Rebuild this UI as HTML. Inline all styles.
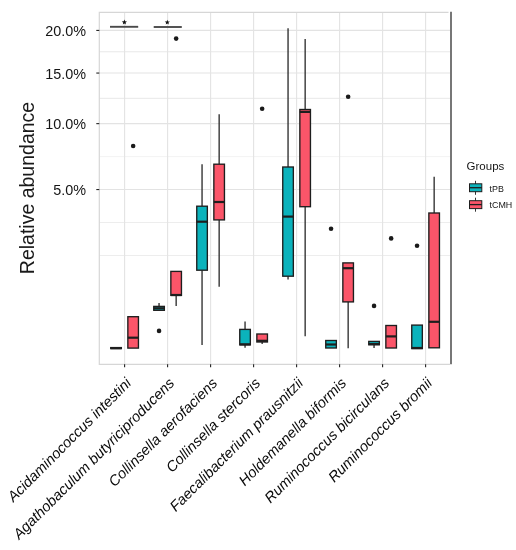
<!DOCTYPE html>
<html><head><meta charset="utf-8"><style>
html,body{margin:0;padding:0;background:#fff;}
svg{display:block;will-change:transform;filter:blur(0.3px);font-family:"Liberation Sans",sans-serif;}
</style></head><body>
<svg width="516" height="550" viewBox="0 0 516 550">
<rect width="516" height="550" fill="#fff"/>
<line x1="99.3" x2="450" y1="255.47" y2="255.47" stroke="#ededed" stroke-width="1"/>
<line x1="99.3" x2="450" y1="222.52" y2="222.52" stroke="#ededed" stroke-width="1"/>
<line x1="99.3" x2="450" y1="156.61" y2="156.61" stroke="#f3f3f3" stroke-width="1"/>
<line x1="99.3" x2="450" y1="98.32" y2="98.32" stroke="#e8e8e8" stroke-width="1"/>
<line x1="99.3" x2="450" y1="51.78" y2="51.78" stroke="#e8e8e8" stroke-width="1"/>
<line x1="99.3" x2="450" y1="189.56" y2="189.56" stroke="#e3e3e3" stroke-width="1.1"/>
<line x1="99.3" x2="450" y1="123.64" y2="123.64" stroke="#e3e3e3" stroke-width="1.1"/>
<line x1="99.3" x2="450" y1="73.06" y2="73.06" stroke="#e3e3e3" stroke-width="1.1"/>
<line x1="99.3" x2="450" y1="30.42" y2="30.42" stroke="#e3e3e3" stroke-width="1.1"/>
<line x1="124.60" x2="124.60" y1="12.3" y2="364.3" stroke="#e3e3e3" stroke-width="1.1"/>
<line x1="167.60" x2="167.60" y1="12.3" y2="364.3" stroke="#e3e3e3" stroke-width="1.1"/>
<line x1="210.60" x2="210.60" y1="12.3" y2="364.3" stroke="#e3e3e3" stroke-width="1.1"/>
<line x1="253.60" x2="253.60" y1="12.3" y2="364.3" stroke="#e3e3e3" stroke-width="1.1"/>
<line x1="296.60" x2="296.60" y1="12.3" y2="364.3" stroke="#e3e3e3" stroke-width="1.1"/>
<line x1="339.60" x2="339.60" y1="12.3" y2="364.3" stroke="#e3e3e3" stroke-width="1.1"/>
<line x1="382.60" x2="382.60" y1="12.3" y2="364.3" stroke="#e3e3e3" stroke-width="1.1"/>
<line x1="425.60" x2="425.60" y1="12.3" y2="364.3" stroke="#e3e3e3" stroke-width="1.1"/>
<polyline points="448.5,12.3 99.3,12.3 99.3,364.3 450,364.3" fill="none" stroke="#d6d6d6" stroke-width="1.2"/>
<line x1="451" x2="451" y1="11.700000000000001" y2="364.3" stroke="#777" stroke-width="2"/>
<rect x="110.75" y="347.6" width="10.6" height="1.00" fill="#0bb3bc" stroke="#1e1e1e" stroke-width="1.35"/>
<line x1="110.75" x2="121.35" y1="348.1" y2="348.1" stroke="#1e1e1e" stroke-width="2.2"/>
<rect x="127.85" y="316.7" width="10.6" height="31.40" fill="#fb5569" stroke="#1e1e1e" stroke-width="1.35"/>
<line x1="127.85" x2="138.45" y1="337.7" y2="337.7" stroke="#1e1e1e" stroke-width="2.2"/>
<circle cx="133.15" cy="146.0" r="2.3" fill="#1a1a1a"/>
<line x1="159.05" x2="159.05" y1="303.1" y2="306.4" stroke="#262626" stroke-width="1.3"/>
<rect x="153.75" y="306.4" width="10.6" height="3.90" fill="#0bb3bc" stroke="#1e1e1e" stroke-width="1.35"/>
<line x1="153.75" x2="164.35" y1="308.3" y2="308.3" stroke="#1e1e1e" stroke-width="2.2"/>
<circle cx="159.05" cy="330.9" r="2.3" fill="#1a1a1a"/>
<line x1="176.15" x2="176.15" y1="295.4" y2="306.0" stroke="#262626" stroke-width="1.3"/>
<rect x="170.85" y="271.4" width="10.6" height="24.00" fill="#fb5569" stroke="#1e1e1e" stroke-width="1.35"/>
<line x1="170.85" x2="181.45" y1="295.0" y2="295.0" stroke="#1e1e1e" stroke-width="2.2"/>
<circle cx="176.15" cy="38.6" r="2.3" fill="#1a1a1a"/>
<line x1="202.05" x2="202.05" y1="164.2" y2="206.2" stroke="#262626" stroke-width="1.3"/>
<line x1="202.05" x2="202.05" y1="270.2" y2="345.0" stroke="#262626" stroke-width="1.3"/>
<rect x="196.75" y="206.2" width="10.6" height="64.00" fill="#0bb3bc" stroke="#1e1e1e" stroke-width="1.35"/>
<line x1="196.75" x2="207.35" y1="221.7" y2="221.7" stroke="#1e1e1e" stroke-width="2.2"/>
<line x1="219.15" x2="219.15" y1="114.2" y2="164.2" stroke="#262626" stroke-width="1.3"/>
<line x1="219.15" x2="219.15" y1="219.9" y2="286.7" stroke="#262626" stroke-width="1.3"/>
<rect x="213.85" y="164.2" width="10.6" height="55.70" fill="#fb5569" stroke="#1e1e1e" stroke-width="1.35"/>
<line x1="213.85" x2="224.45" y1="202.0" y2="202.0" stroke="#1e1e1e" stroke-width="2.2"/>
<line x1="245.05" x2="245.05" y1="321.6" y2="329.4" stroke="#262626" stroke-width="1.3"/>
<line x1="245.05" x2="245.05" y1="344.9" y2="347.8" stroke="#262626" stroke-width="1.3"/>
<rect x="239.75" y="329.4" width="10.6" height="15.50" fill="#0bb3bc" stroke="#1e1e1e" stroke-width="1.35"/>
<line x1="239.75" x2="250.35" y1="344.3" y2="344.3" stroke="#1e1e1e" stroke-width="2.2"/>
<line x1="262.15" x2="262.15" y1="342.0" y2="343.9" stroke="#262626" stroke-width="1.3"/>
<rect x="256.85" y="334.0" width="10.6" height="8.00" fill="#fb5569" stroke="#1e1e1e" stroke-width="1.35"/>
<line x1="256.85" x2="267.45" y1="340.8" y2="340.8" stroke="#1e1e1e" stroke-width="2.2"/>
<circle cx="262.15" cy="108.8" r="2.3" fill="#1a1a1a"/>
<line x1="288.05" x2="288.05" y1="28.2" y2="167.0" stroke="#262626" stroke-width="1.3"/>
<line x1="288.05" x2="288.05" y1="276.2" y2="279.6" stroke="#262626" stroke-width="1.3"/>
<rect x="282.75" y="167.0" width="10.6" height="109.20" fill="#0bb3bc" stroke="#1e1e1e" stroke-width="1.35"/>
<line x1="282.75" x2="293.35" y1="216.6" y2="216.6" stroke="#1e1e1e" stroke-width="2.2"/>
<line x1="305.15" x2="305.15" y1="38.9" y2="109.5" stroke="#262626" stroke-width="1.3"/>
<line x1="305.15" x2="305.15" y1="206.7" y2="336.3" stroke="#262626" stroke-width="1.3"/>
<rect x="299.85" y="109.5" width="10.6" height="97.20" fill="#fb5569" stroke="#1e1e1e" stroke-width="1.35"/>
<line x1="299.85" x2="310.45" y1="111.9" y2="111.9" stroke="#1e1e1e" stroke-width="2.2"/>
<rect x="325.75" y="340.5" width="10.6" height="7.50" fill="#0bb3bc" stroke="#1e1e1e" stroke-width="1.35"/>
<line x1="325.75" x2="336.35" y1="344.5" y2="344.5" stroke="#1e1e1e" stroke-width="2.2"/>
<circle cx="331.05" cy="228.7" r="2.3" fill="#1a1a1a"/>
<line x1="348.15" x2="348.15" y1="301.9" y2="348.2" stroke="#262626" stroke-width="1.3"/>
<rect x="342.85" y="262.9" width="10.6" height="39.00" fill="#fb5569" stroke="#1e1e1e" stroke-width="1.35"/>
<line x1="342.85" x2="353.45" y1="268.2" y2="268.2" stroke="#1e1e1e" stroke-width="2.2"/>
<circle cx="348.15" cy="96.7" r="2.3" fill="#1a1a1a"/>
<line x1="374.05" x2="374.05" y1="344.8" y2="347.9" stroke="#262626" stroke-width="1.3"/>
<rect x="368.75" y="341.4" width="10.6" height="3.40" fill="#0bb3bc" stroke="#1e1e1e" stroke-width="1.35"/>
<line x1="368.75" x2="379.35" y1="344.0" y2="344.0" stroke="#1e1e1e" stroke-width="2.2"/>
<circle cx="374.05" cy="305.9" r="2.3" fill="#1a1a1a"/>
<rect x="385.85" y="325.5" width="10.6" height="22.50" fill="#fb5569" stroke="#1e1e1e" stroke-width="1.35"/>
<line x1="385.85" x2="396.45" y1="336.4" y2="336.4" stroke="#1e1e1e" stroke-width="2.2"/>
<circle cx="391.15" cy="238.4" r="2.3" fill="#1a1a1a"/>
<rect x="411.75" y="325.1" width="10.6" height="23.50" fill="#0bb3bc" stroke="#1e1e1e" stroke-width="1.35"/>
<line x1="411.75" x2="422.35" y1="348.0" y2="348.0" stroke="#1e1e1e" stroke-width="2.2"/>
<circle cx="417.05" cy="245.7" r="2.3" fill="#1a1a1a"/>
<line x1="434.15" x2="434.15" y1="176.8" y2="213.0" stroke="#262626" stroke-width="1.3"/>
<rect x="428.85" y="213.0" width="10.6" height="134.80" fill="#fb5569" stroke="#1e1e1e" stroke-width="1.35"/>
<line x1="428.85" x2="439.45" y1="321.8" y2="321.8" stroke="#1e1e1e" stroke-width="2.2"/>
<line x1="110.0" x2="138.2" y1="26.8" y2="26.8" stroke="#4a4a4a" stroke-width="1.9"/>
<polygon points="124.40,19.60 125.08,21.37 126.97,21.47 125.49,22.66 125.99,24.48 124.40,23.45 122.81,24.48 123.31,22.66 121.83,21.47 123.72,21.37" fill="#111"/>
<line x1="153.7" x2="181.8" y1="27.0" y2="27.0" stroke="#4a4a4a" stroke-width="1.9"/>
<polygon points="167.30,19.70 167.98,21.47 169.87,21.57 168.39,22.76 168.89,24.58 167.30,23.55 165.71,24.58 166.21,22.76 164.73,21.57 166.62,21.47" fill="#111"/>
<line x1="96.3" x2="99.3" y1="189.56" y2="189.56" stroke="#222" stroke-width="1.1"/>
<text x="86.1" y="195.16" font-size="14.4" text-anchor="end" fill="#151515">5.0%</text>
<line x1="96.3" x2="99.3" y1="123.64" y2="123.64" stroke="#222" stroke-width="1.1"/>
<text x="86.1" y="129.24" font-size="14.4" text-anchor="end" fill="#151515">10.0%</text>
<line x1="96.3" x2="99.3" y1="73.06" y2="73.06" stroke="#222" stroke-width="1.1"/>
<text x="86.1" y="78.66" font-size="14.4" text-anchor="end" fill="#151515">15.0%</text>
<line x1="96.3" x2="99.3" y1="30.42" y2="30.42" stroke="#222" stroke-width="1.1"/>
<text x="86.1" y="36.02" font-size="14.4" text-anchor="end" fill="#151515">20.0%</text>
<line x1="124.60" x2="124.60" y1="364.3" y2="367.3" stroke="#222" stroke-width="1.1"/>
<line x1="167.60" x2="167.60" y1="364.3" y2="367.3" stroke="#222" stroke-width="1.1"/>
<line x1="210.60" x2="210.60" y1="364.3" y2="367.3" stroke="#222" stroke-width="1.1"/>
<line x1="253.60" x2="253.60" y1="364.3" y2="367.3" stroke="#222" stroke-width="1.1"/>
<line x1="296.60" x2="296.60" y1="364.3" y2="367.3" stroke="#222" stroke-width="1.1"/>
<line x1="339.60" x2="339.60" y1="364.3" y2="367.3" stroke="#222" stroke-width="1.1"/>
<line x1="382.60" x2="382.60" y1="364.3" y2="367.3" stroke="#222" stroke-width="1.1"/>
<line x1="425.60" x2="425.60" y1="364.3" y2="367.3" stroke="#222" stroke-width="1.1"/>
<text transform="translate(132.10,384.0) rotate(-45)" x="0" y="0" font-size="14.65" font-style="italic" text-anchor="end" fill="#0a0a0a">Acidaminococcus intestini</text>
<text transform="translate(175.10,384.0) rotate(-45)" x="0" y="0" font-size="14.65" font-style="italic" text-anchor="end" fill="#0a0a0a">Agathobaculum butyriciproducens</text>
<text transform="translate(218.10,384.0) rotate(-45)" x="0" y="0" font-size="14.65" font-style="italic" text-anchor="end" fill="#0a0a0a">Collinsella aerofaciens</text>
<text transform="translate(261.10,384.0) rotate(-45)" x="0" y="0" font-size="14.65" font-style="italic" text-anchor="end" fill="#0a0a0a">Collinsella stercoris</text>
<text transform="translate(304.10,384.0) rotate(-45)" x="0" y="0" font-size="14.65" font-style="italic" text-anchor="end" fill="#0a0a0a">Faecalibacterium prausnitzii</text>
<text transform="translate(347.10,384.0) rotate(-45)" x="0" y="0" font-size="14.65" font-style="italic" text-anchor="end" fill="#0a0a0a">Holdemanella biformis</text>
<text transform="translate(390.10,384.0) rotate(-45)" x="0" y="0" font-size="14.65" font-style="italic" text-anchor="end" fill="#0a0a0a">Ruminococcus bicirculans</text>
<text transform="translate(433.10,384.0) rotate(-45)" x="0" y="0" font-size="14.65" font-style="italic" text-anchor="end" fill="#0a0a0a">Ruminococcus bromii</text>
<text transform="translate(33.6,188.0) rotate(-90)" font-size="19.5" text-anchor="middle" fill="#1a1a1a">Relative abundance</text>
<text x="466.6" y="170.2" font-size="11.5" fill="#151515">Groups</text>
<line x1="475.5" x2="475.5" y1="180.8" y2="194.8" stroke="#333" stroke-width="1"/>
<rect x="469.5" y="183.8" width="12.3" height="7.9" fill="#0bb3bc" stroke="#1e1e1e" stroke-width="1"/>
<line x1="469.5" x2="481.8" y1="187.70000000000002" y2="187.70000000000002" stroke="#1e1e1e" stroke-width="1.3"/>
<text x="489.6" y="191.5" font-size="8.9" fill="#151515">tPB</text>
<line x1="475.5" x2="475.5" y1="197.70000000000002" y2="211.70000000000002" stroke="#333" stroke-width="1"/>
<rect x="469.5" y="200.70000000000002" width="12.3" height="7.9" fill="#fb5569" stroke="#1e1e1e" stroke-width="1"/>
<line x1="469.5" x2="481.8" y1="204.60000000000002" y2="204.60000000000002" stroke="#1e1e1e" stroke-width="1.3"/>
<text x="489.6" y="208.4" font-size="8.9" fill="#151515">tCMH</text>
</svg>
</body></html>
